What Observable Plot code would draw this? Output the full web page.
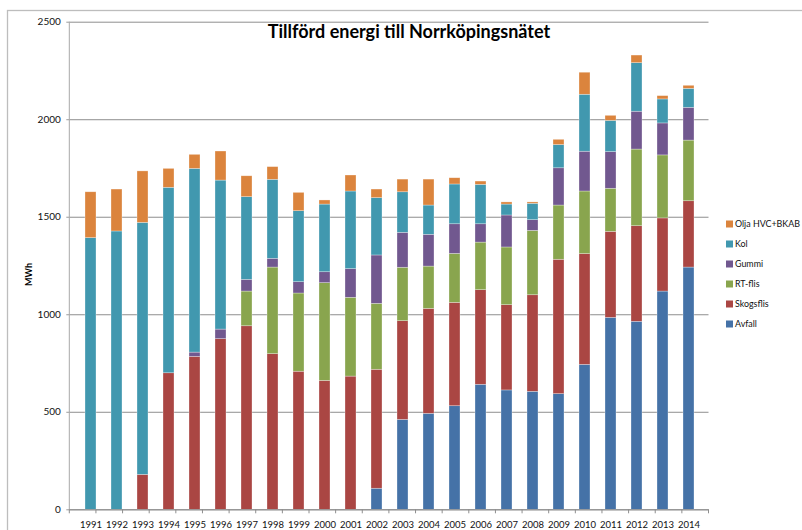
<!DOCTYPE html>
<html><head><meta charset="utf-8">
<script src="https://cdn.jsdelivr.net/npm/d3@7"></script>
<script src="https://cdn.jsdelivr.net/npm/@observablehq/plot@0.6"></script>
<style>
html,body{margin:0;padding:0;background:#fff;}
#chart{position:relative;width:802px;height:530px;overflow:hidden;}
</style>
</head><body><div id="chart"></div>
<script>
const years = ["1991","1992","1993","1994","1995","1996","1997","1998","1999","2000","2001","2002",
               "2003","2004","2005","2006","2007","2008","2009","2010","2011","2012","2013","2014"];
const seriesNames = ["Avfall","Skogsflis","RT-flis","Gummi","Kol","Olja HVC+BKAB"];
const colors = ["#4572A7","#AA4643","#89A54E","#71588F","#4198AF","#DB843D"];

const avfall    = [0,0,0,0,0,0,0,0,0,0,0,108,461,492,531,641,612,605,593,743,984,964,1119,1242];
const skogsflis = [0,0,179,700,784,875,941,798,708,661,683,610,506,538,530,485,437,495,689,568,441,490,375,340];
const rtflis    = [0,0,0,0,0,0,178,444,401,501,404,338,274,217,251,244,296,330,278,321,221,393,323,311];
const gummi     = [0,0,0,0,22,49,60,45,58,56,147,248,179,163,152,94,164,55,191,204,188,194,164,168];
const kol       = [1393,1427,1292,951,942,764,424,405,364,347,398,294,208,150,204,202,56,84,119,292,160,249,123,97];
const olja      = [235,215,264,97,72,149,107,65,94,21,82,44,65,133,32,17,11,7,27,113,26,39,17,16];

const yTicks = [0,500,1000,1500,2000,2500];
const titleText = "Tillförd energi till Norrköpingsnätet";
const yLabel = "MWh";

const seriesValues = [avfall, skogsflis, rtflis, gummi, kol, olja];
const data = [];
seriesNames.forEach((name, i) => years.forEach((yr, j) => data.push({year: yr, type: name, value: seriesValues[i][j]})));

const W = 802, H = 530, mL = 69.3, mR = 93.5, mT = 21.7, mB = 20.7;
const pad = 0.59;

const chart = Plot.plot({
  width: W, height: H,
  marginLeft: mL, marginRight: mR, marginTop: mT, marginBottom: mB,
  style: {fontFamily: "Lato, 'Open Sans', sans-serif", fontSize: "10px", color: "#111", background: "transparent"},
  x: {domain: years, paddingInner: pad, paddingOuter: pad / 2, align: 0.5, tickSize: 0, tickPadding: 11, label: null},
  y: {domain: [0, 2500], ticks: yTicks, tickSize: 3, tickPadding: 6, label: null, tickFormat: d => String(d)},
  color: {domain: seriesNames, range: colors},
  marks: [
    Plot.ruleY(yTicks, {stroke: "#8e8e8e", strokeWidth: 1}),
    Plot.barY(data, {x: "year", y: "value", fill: "type", stroke: "#ffffff", strokeOpacity: 0.5, strokeWidth: 0.6}),
    Plot.ruleY([0], {stroke: "#8e8e8e", strokeWidth: 1})
  ]
});
document.getElementById("chart").appendChild(chart);

const svg = d3.select(chart);
svg.selectAll('[aria-label^="y-axis"] line, [aria-label^="y-axis"] path').attr("stroke", "#9a9a9a");
svg.selectAll('[aria-label^="x-axis"] text').style("font-size", "9.5px");

const xs = d3.scaleBand().domain(years).range([mL, W - mR]).paddingInner(pad).paddingOuter(pad / 2).align(0.5);
const ys = d3.scaleLinear().domain([0, 2500]).range([H - mB, mT]);

// outer chart border
svg.insert("rect", ":first-child")
  .attr("x", 7.5).attr("y", 10.5).attr("width", 900).attr("height", 600)
  .attr("fill", "none").attr("stroke", "#bdbdbd").attr("stroke-width", 1.3);

// y axis line
svg.append("line").attr("x1", mL).attr("x2", mL).attr("y1", ys(2500)).attr("y2", ys(0))
  .attr("stroke", "#a8a8a8").attr("stroke-width", 1);

// x tick marks at category boundaries
const bounds = years.map(y => xs(y) + xs.bandwidth() / 2 - xs.step() / 2);
bounds.push(xs(years[years.length - 1]) + xs.bandwidth() / 2 + xs.step() / 2);
svg.append("g").selectAll("line").data(bounds).join("line")
  .attr("x1", d => d).attr("x2", d => d).attr("y1", ys(0)).attr("y2", ys(0) + 4)
  .attr("stroke", "#8e8e8e").attr("stroke-width", 1);

// title
svg.append("text").attr("x", 409).attr("y", 37.7).attr("text-anchor", "middle")
  .style("font-family", "Lato, sans-serif").style("font-weight", "bold").style("font-size", "18px")
  .attr("fill", "#000").text(titleText);

// y label
svg.append("text").attr("transform", `translate(32,${(ys(0) + ys(2500)) / 2 + 9}) rotate(-90)`)
  .attr("text-anchor", "middle")
  .style("font-family", "Lato, sans-serif").style("font-weight", "bold").style("font-size", "9px")
  .attr("fill", "#000").text(yLabel);

// legend
const legendOrder = seriesNames.slice().reverse();
const lg = svg.append("g").attr("text-anchor", "start").style("text-anchor", "start");
legendOrder.forEach((name, k) => {
  const cy = 224 + k * 20;
  lg.append("rect").attr("x", 726).attr("y", cy - 3.5).attr("width", 7).attr("height", 7)
    .attr("fill", colors[seriesNames.indexOf(name)]);
  lg.append("text").attr("x", 735).attr("y", cy).attr("dy", "0.35em")
    .style("text-anchor", "start")
    .style("font-family", "Lato, sans-serif").style("font-size", "8.9px").attr("fill", "#111").text(name);
});
</script>
</body></html>
